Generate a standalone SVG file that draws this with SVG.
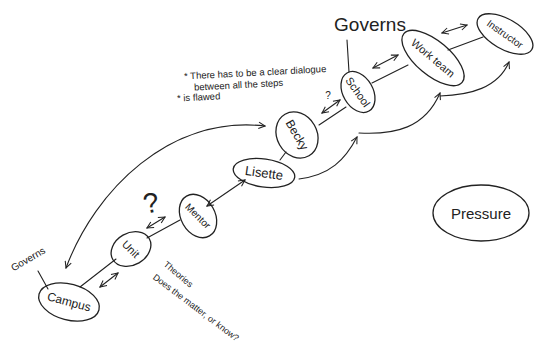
<svg xmlns="http://www.w3.org/2000/svg" width="541" height="343" viewBox="0 0 541 343">
<style>
.n ellipse{fill:none;stroke:#222;stroke-width:1.3}
text{font-family:"Liberation Sans","DejaVu Sans",sans-serif;fill:#222;text-anchor:middle;dominant-baseline:central}
text.l{text-anchor:start}
.c path,.c line{fill:none;stroke:#222;stroke-width:1.1;stroke-linecap:round}
.a{marker-start:url(#h);marker-end:url(#h)}
.e{marker-end:url(#h)}
</style>
<defs>
<marker id="h" viewBox="0 0 10 10" refX="9" refY="5" markerWidth="8" markerHeight="8" orient="auto-start-reverse" markerUnits="userSpaceOnUse">
<path d="M1,1 L9,5 L1,9" fill="none" stroke="#222" stroke-width="1.3"/>
</marker>
</defs>
<rect width="541" height="343" fill="#fff"/>
<g class="c">
<line x1="80" y1="287" x2="116" y2="259"/>
<line class="a" x1="100" y1="287" x2="118" y2="273"/>
<line x1="147" y1="238" x2="180" y2="220"/>
<line class="a" x1="147" y1="228" x2="165" y2="217"/>
<line class="a" x1="207" y1="206" x2="245" y2="180"/>
<line x1="280" y1="160" x2="286" y2="152"/>
<line x1="319" y1="125" x2="346" y2="107"/>
<line class="a" x1="322" y1="113" x2="340" y2="100"/>
<line x1="372" y1="83" x2="408" y2="65"/>
<line class="a" x1="373" y1="68" x2="398" y2="55"/>
<line x1="448" y1="50" x2="483" y2="37"/>
<line class="a" x1="442" y1="33" x2="467" y2="25"/>
<line x1="347" y1="40" x2="349" y2="72"/>
<line x1="38" y1="271" x2="48" y2="289"/>
<path class="a" d="M66,268 C95,190 170,115 265,126"/>
<path class="e" d="M299,179 C330,175 345,160 357,137"/>
<path class="e" d="M359,133 C395,135 425,128 440,93"/>
<path class="e" d="M440,96 C470,95 498,88 509,62"/>
</g>
<g id="campus" class="n"><ellipse cx="69" cy="302" rx="31" ry="18" transform="rotate(15 69 302)"/><text x="69" y="302" font-size="12" transform="rotate(15 69 302)">Campus</text></g>
<g id="unit" class="n"><ellipse cx="131" cy="249" rx="21" ry="16" transform="rotate(-30 131 249)"/><text x="131" y="249" font-size="11" transform="rotate(45 131 249)">Unit</text></g>
<g id="mentor" class="n"><ellipse cx="198" cy="216" rx="23" ry="17" transform="rotate(60 198 216)"/><text x="198" y="216" font-size="10" transform="rotate(45 198 216)">Mentor</text></g>
<g id="lisette" class="n"><ellipse cx="264" cy="173" rx="31" ry="14" transform="rotate(8 264 173)"/><text x="264" y="173" font-size="13" transform="rotate(8 264 173)">Lisette</text></g>
<g id="becky" class="n"><ellipse cx="297" cy="135" rx="24" ry="20" transform="rotate(60 297 135)"/><text x="297" y="135" font-size="12" transform="rotate(60 297 135)">Becky</text></g>
<g id="school" class="n"><ellipse cx="358" cy="92" rx="22" ry="15" transform="rotate(60 358 92)"/><text x="358" y="92" font-size="11" transform="rotate(55 358 92)">School</text></g>
<g id="workteam" class="n"><ellipse cx="433" cy="58" rx="38" ry="17" transform="rotate(40 433 58)"/><text x="433" y="58" font-size="11" transform="rotate(40 433 58)">Work team</text></g>
<g id="instructor" class="n"><ellipse cx="505" cy="34" rx="31" ry="15" transform="rotate(30 505 34)"/><text x="505" y="34" font-size="10" transform="rotate(35 505 34)">Instructor</text></g>
<g id="pressure" class="n"><ellipse cx="481" cy="213" rx="48" ry="28"/><text x="481" y="213" font-size="15">Pressure</text></g>
<text x="370" y="24" font-size="19">Governs</text>
<text x="28" y="259" font-size="10" transform="rotate(-30 28 259)">Governs</text>
<g font-size="9.5">
<text class="l" x="184" y="76" transform="rotate(-3 184 76)">* There has to be a clear dialogue</text>
<text class="l" x="194" y="87" transform="rotate(-3 194 87)">between all the steps</text>
<text class="l" x="177" y="98" transform="rotate(-3 177 98)">* is flawed</text>
</g>
<text x="328" y="95" font-size="10">?</text>
<text x="151" y="203" font-size="28" transform="rotate(-10 151 203)">?</text>
<g font-size="9">
<text class="l" x="165" y="263" transform="rotate(40 165 263)">Theories</text>
<text class="l" x="154" y="276" transform="rotate(37 154 276)">Does the matter, or know?</text>
</g>
</svg>
